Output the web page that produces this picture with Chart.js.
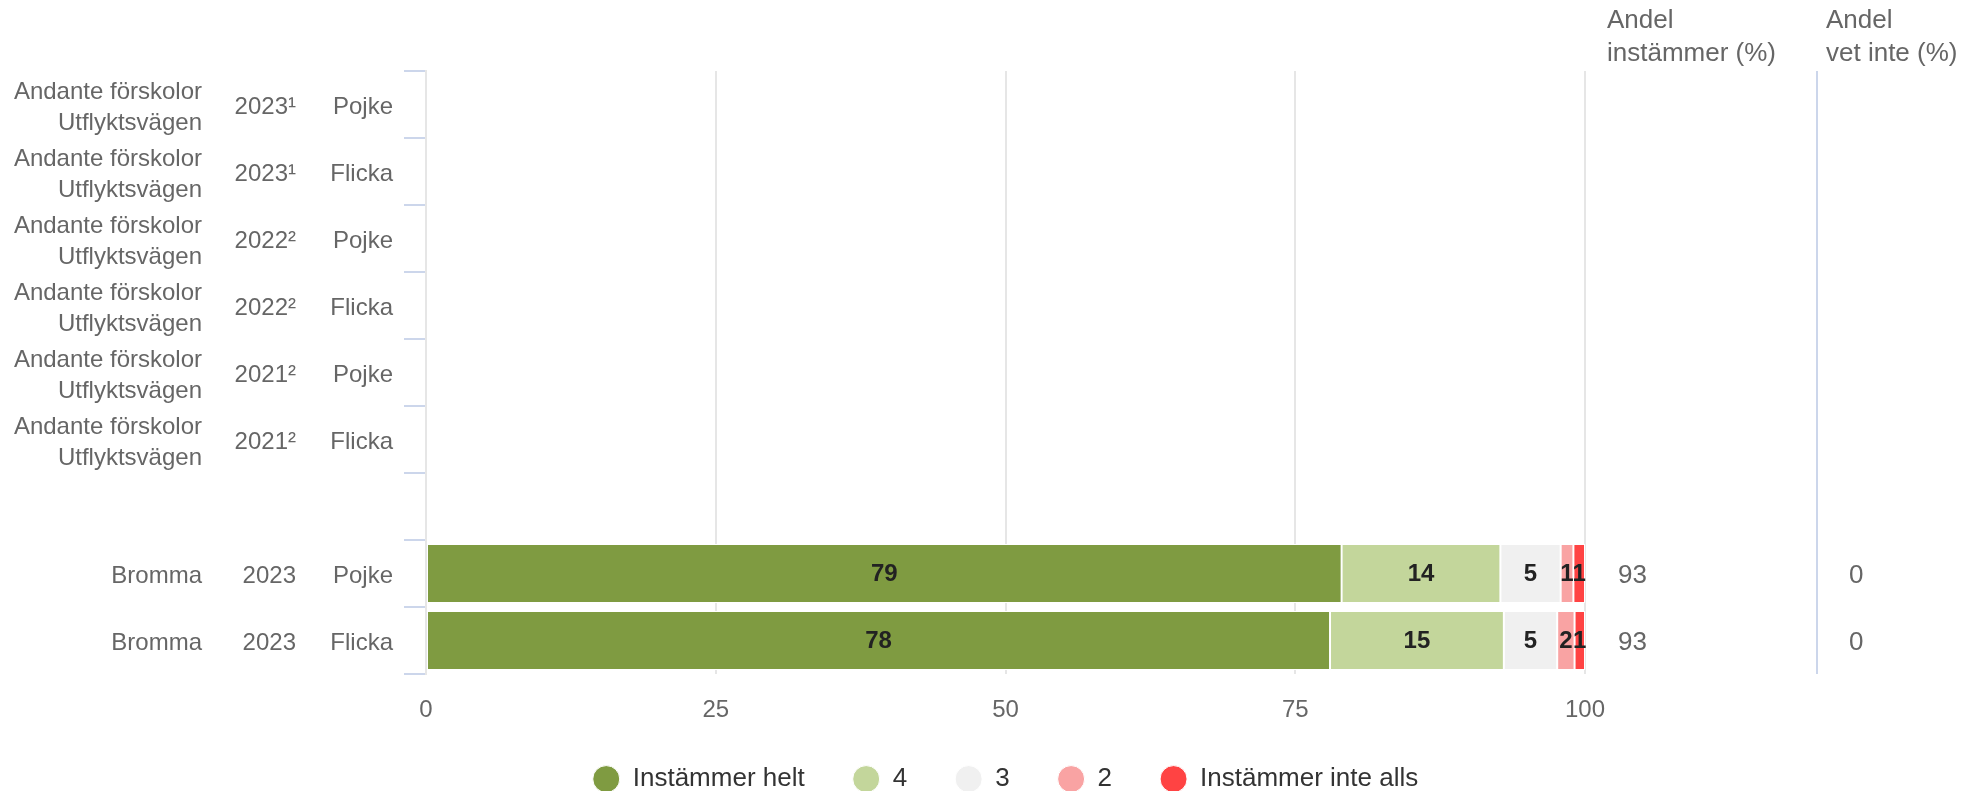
<!DOCTYPE html>
<html lang="sv">
<head>
    <meta charset="UTF-8">
    <title>Andel som instämmer</title>
    <script src="https://cdn.jsdelivr.net/npm/chart.js"></script>
    <style>
        * {
            margin: 0;
            padding: 0;
            box-sizing: border-box;
        }
        body {
            background-color: #ffffff;
            overflow: hidden;
        }
        .chart-container {
            width: 1981px;
            height: 791px;
            position: relative;
        }
    </style>
</head>
<body>

    <div class="chart-container">
        <canvas id="enkat-chart" width="1981" height="791"></canvas>
    </div>

    <script>
        // rader (uppifrån och ned), tom rad mellan enheten och Bromma
        const enheter = [
            ['Andante förskolor', 'Utflyktsvägen'],
            ['Andante förskolor', 'Utflyktsvägen'],
            ['Andante förskolor', 'Utflyktsvägen'],
            ['Andante förskolor', 'Utflyktsvägen'],
            ['Andante förskolor', 'Utflyktsvägen'],
            ['Andante förskolor', 'Utflyktsvägen'],
            '',
            'Bromma',
            'Bromma'
        ];
        const ar = ['2023¹', '2023¹', '2022²', '2022²', '2021²', '2021²', '', '2023', '2023'];
        const kon = ['Pojke', 'Flicka', 'Pojke', 'Flicka', 'Pojke', 'Flicka', '', 'Pojke', 'Flicka'];

        // svarsfördelning i procent
        const instammerHelt     = [null, null, null, null, null, null, null, 79, 78];
        const svar4             = [null, null, null, null, null, null, null, 13.7, 15];
        const svar3             = [null, null, null, null, null, null, null, 5.2, 4.6];
        const svar2             = [null, null, null, null, null, null, null, 1.1, 1.5];
        const instammerInteAlls = [null, null, null, null, null, null, null, 1, 0.9];

        // tabellkolumnerna till höger
        const andelInstammer = [null, null, null, null, null, null, null, 93, 93];
        const andelVetInte   = [null, null, null, null, null, null, null, 0, 0];

        const xTicks = [0, 25, 50, 75, 100];

        const FONT = "'Liberation Sans', Arial, Helvetica, sans-serif";
        Chart.defaults.font.family = FONT;
        Chart.defaults.color = '#666666';

        function serie(label, data, color) {
            return {
                label: label,
                data: data,
                backgroundColor: color,
                borderColor: '#ffffff',
                borderWidth: 1,
                borderSkipped: false,
                barPercentage: 0.88,
                categoryPercentage: 1
            };
        }

        // siffror i staplarna, radetiketter i tre kolumner och tabellen till höger
        const tabellText = {
            id: 'tabellText',
            afterDraw(chart) {
                const ctx = chart.ctx;
                const area = chart.chartArea;
                const y = chart.scales.y;
                ctx.save();

                // skiljelinje för tabellen
                ctx.strokeStyle = '#ccd6eb';
                ctx.lineWidth = 2;
                ctx.beginPath();
                ctx.moveTo(area.right + 232, area.top);
                ctx.lineTo(area.right + 232, area.bottom);
                ctx.stroke();

                // datavärden
                ctx.font = 'bold 24px ' + FONT;
                ctx.fillStyle = '#222222';
                ctx.textAlign = 'center';
                ctx.textBaseline = 'middle';
                chart.data.datasets.forEach((ds, di) => {
                    chart.getDatasetMeta(di).data.forEach((bar, i) => {
                        if (ds.data[i] == null) return;
                        const p = bar.getCenterPoint();
                        ctx.fillText(String(Math.round(ds.data[i])), p.x, p.y + 1);
                    });
                });

                // radetiketter
                ctx.font = '24px ' + FONT;
                ctx.fillStyle = '#666666';
                ctx.textAlign = 'right';
                enheter.forEach((namn, i) => {
                    const yc = y.getPixelForValue(i) + 3;
                    const rader = Array.isArray(namn) ? namn : [namn];
                    rader.forEach((r, k) => {
                        ctx.fillText(r, area.left - 224, yc + (k - (rader.length - 1) / 2) * 31);
                    });
                    ctx.fillText(ar[i], area.left - 130, yc);
                    ctx.fillText(kon[i], area.left - 33, yc);
                });

                // tabellkolumner
                ctx.font = '26px ' + FONT;
                ctx.textAlign = 'left';
                ctx.fillText('Andel', area.right + 22, 21);
                ctx.fillText('instämmer (%)', area.right + 22, 54);
                ctx.fillText('Andel', area.right + 241, 21);
                ctx.fillText('vet inte (%)', area.right + 241, 54);
                andelInstammer.forEach((v, i) => {
                    if (v == null) return;
                    ctx.fillText(String(v), area.right + 33, y.getPixelForValue(i) + 2);
                });
                andelVetInte.forEach((v, i) => {
                    if (v == null) return;
                    ctx.fillText(String(v), area.right + 264, y.getPixelForValue(i) + 2);
                });
                ctx.restore();
            }
        };

        const chartConfig = {
            type: 'bar',
            data: {
                labels: kon.map((k, i) => [ar[i], k].join(' ')),
                datasets: [
                    serie('Instämmer helt', instammerHelt, '#7f9b41'),
                    serie('4', svar4, '#c3d69b'),
                    serie('3', svar3, '#f0f0f0'),
                    serie('2', svar2, '#f9a3a3'),
                    serie('Instämmer inte alls', instammerInteAlls, '#ff4343')
                ]
            },
            options: {
                indexAxis: 'y',
                responsive: false,
                animation: false,
                events: [],
                layout: {
                    padding: { top: 71, left: 404, right: 396, bottom: -11 }
                },
                scales: {
                    x: {
                        stacked: true,
                        min: 0,
                        max: 100,
                        afterBuildTicks: (scale) => {
                            scale.ticks = xTicks.map(v => ({ value: v }));
                        },
                        afterFit: (scale) => { scale.height = 44; },
                        ticks: {
                            padding: 22,
                            color: '#666666',
                            font: { size: 24 }
                        },
                        grid: {
                            color: '#e6e6e6',
                            lineWidth: 2,
                            drawTicks: false
                        },
                        border: { display: false }
                    },
                    y: {
                        stacked: true,
                        afterFit: (scale) => { scale.width = 22; },
                        ticks: { display: false },
                        grid: {
                            offset: true,
                            drawOnChartArea: false,
                            drawTicks: true,
                            tickLength: 22,
                            color: '#ccd6eb',
                            lineWidth: 2
                        },
                        border: { color: '#e6e6e6', width: 2 }
                    }
                },
                plugins: {
                    legend: {
                        position: 'bottom',
                        fullSize: false,
                        labels: {
                            usePointStyle: true,
                            pointStyle: 'circle',
                            pointStyleWidth: 27,
                            boxHeight: 19,
                            padding: 48,
                            color: '#333333',
                            font: { size: 26 }
                        }
                    },
                    tooltip: { enabled: false }
                }
            },
            plugins: [tabellText]
        };

        const ctx = document.getElementById('enkat-chart').getContext('2d');
        new Chart(ctx, chartConfig);
    </script>

</body>
</html>
